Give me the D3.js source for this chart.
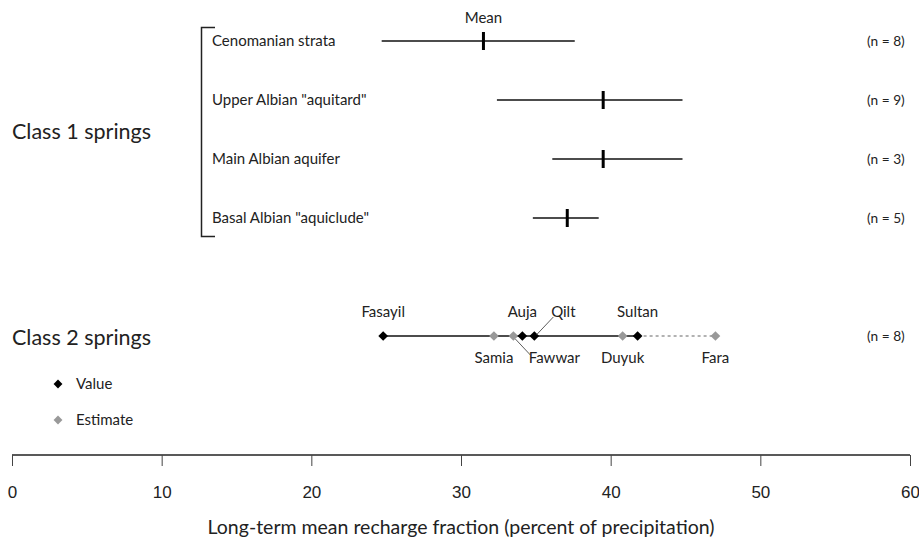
<!DOCTYPE html>
<html>
<head>
<meta charset="utf-8">
<script src="https://cdn.jsdelivr.net/npm/d3@7"></script>
<style>
  body { margin: 0; background: #fff; }
  svg { display: block; font-family: Lato, "Open Sans", sans-serif; }
</style>
</head>
<body>
<svg id="chart" width="919" height="543"></svg>
<script>
// Class 1 springs: recharge fraction range (min, max) and mean by unit
const class1Units = ["Cenomanian strata", "Upper Albian \"aquitard\"", "Main Albian aquifer", "Basal Albian \"aquiclude\""];
const class1Min   = [24.7, 32.4, 36.1, 34.8];
const class1Max   = [37.6, 44.8, 44.8, 39.2];
const class1Mean  = [31.5, 39.5, 39.5, 37.1];
const class1N     = [8, 9, 3, 5];

// Class 2 springs: individual values (measured or estimated)
const class2Names = ["Fasayil", "Samia", "Fawwar", "Auja", "Qilt", "Duyuk", "Sultan", "Fara"];
const class2Vals  = [24.8, 32.2, 33.5, 34.1, 34.9, 40.8, 41.8, 47.0];
const class2Kind  = ["Value", "Estimate", "Estimate", "Value", "Value", "Estimate", "Value", "Estimate"];
const class2Side  = ["above", "below", "below", "above", "above", "below", "above", "below"];
const class2N     = 8;

const xTicks = [0, 10, 20, 30, 40, 50, 60];
const legendItems = ["Value", "Estimate"];

const svg = d3.select("#chart");
const x = d3.scaleLinear().domain([0, 60]).range([12, 910]);
const axisY = 455;
const kindColor = { Value: "#000", Estimate: "#999" };
const labelSize = "15px";

// row positions for class 1 units and the class 2 line
const rowY = d3.scalePoint().domain(class1Units).range([41, 218]);
const class2Y = 336;

// x axis
const axis = svg.append("g")
  .attr("transform", `translate(0,${axisY})`)
  .call(d3.axisBottom(x).tickValues(xTicks).tickSize(11).tickPadding(0).tickFormat(d3.format("d")));
axis.select(".domain").attr("d", `M${x(0)},0H${x(60)}`).attr("stroke", "#222").attr("stroke-width", 1.3);
axis.selectAll(".tick line").attr("stroke", "#444").attr("stroke-width", 1);
axis.selectAll(".tick text").remove();
axis.selectAll(".tick").append("text")
  .attr("y", 37).attr("dy", "0.35em")
  .attr("text-anchor", "middle")
  .attr("fill", "#222")
  .style("font-size", "17px")
  .text(d => d);

svg.append("text")
  .attr("x", 461).attr("y", 527).attr("dy", "0.35em")
  .attr("text-anchor", "middle")
  .style("font-size", "19.5px").attr("fill", "#222")
  .text("Long-term mean recharge fraction (percent of precipitation)");

// group labels
svg.append("text").attr("x", 12).attr("y", 131).attr("dy", "0.35em")
  .style("font-size", "21.5px").attr("fill", "#222").text("Class 1 springs");
svg.append("text").attr("x", 12).attr("y", class2Y + 1).attr("dy", "0.35em")
  .style("font-size", "21.5px").attr("fill", "#222").text("Class 2 springs");

// bracket grouping the class 1 units
svg.append("path")
  .attr("d", "M215,27.5H201.5V236.5H215")
  .attr("fill", "none").attr("stroke", "#222").attr("stroke-width", 1.5);

// class 1 unit labels and range bars
const rows = svg.append("g").selectAll("g").data(class1Units).join("g")
  .attr("transform", d => `translate(0,${rowY(d)})`);
rows.append("text").attr("x", 212).attr("dy", "0.35em")
  .style("font-size", labelSize).attr("fill", "#222").text(d => d);
rows.append("line")
  .attr("x1", (d, i) => x(class1Min[i])).attr("x2", (d, i) => x(class1Max[i]))
  .attr("stroke", "#111").attr("stroke-width", 1.6);
rows.append("line")
  .attr("x1", (d, i) => x(class1Mean[i])).attr("x2", (d, i) => x(class1Mean[i]))
  .attr("y1", -9).attr("y2", 9)
  .attr("stroke", "#000").attr("stroke-width", 3);
rows.append("text").attr("x", 867).attr("dy", "0.35em")
  .style("font-size", "13.7px").attr("fill", "#222").text((d, i) => `(n = ${class1N[i]})`);

svg.append("text").attr("x", x(class1Mean[0])).attr("y", 18).attr("dy", "0.35em")
  .attr("text-anchor", "middle").style("font-size", labelSize).attr("fill", "#222").text("Mean");

// class 2 line: solid across measured values, dashed to the highest estimate
const valueIdx = class2Vals.map((v, i) => i).filter(i => class2Kind[i] === "Value");
const lastValue = d3.max(valueIdx, i => class2Vals[i]);
const firstVal = d3.min(class2Vals);
const maxVal = d3.max(class2Vals);
svg.append("line")
  .attr("x1", x(firstVal)).attr("x2", x(lastValue)).attr("y1", class2Y).attr("y2", class2Y)
  .attr("stroke", "#111").attr("stroke-width", 1.6);
svg.append("line")
  .attr("x1", x(lastValue)).attr("x2", x(maxVal)).attr("y1", class2Y).attr("y2", class2Y)
  .attr("stroke", "#999").attr("stroke-width", 1.5).attr("stroke-dasharray", "3,3");

const diamond = d3.symbol().type(d3.symbolDiamond2).size(60);
const drawOrder = class2Vals.map((v, i) => i).sort((a, b) => (class2Kind[a] === "Value") - (class2Kind[b] === "Value"));
svg.append("g").selectAll("path").data(drawOrder).join("path")
  .attr("d", diamond)
  .attr("transform", i => `translate(${x(class2Vals[i])},${class2Y})`)
  .attr("fill", i => kindColor[class2Kind[i]]);

// point labels; Qilt and Fawwar are offset, with leader lines back to their points
const labelShift = { Qilt: 29, Fawwar: 41 };
const leaderEnd = { Qilt: [19, 317], Fawwar: [17, 355] };
const labels = svg.append("g").selectAll("g").data(class2Names).join("g");
labels.append("text")
  .attr("x", (d, i) => x(class2Vals[i]) + (labelShift[d] || 0))
  .attr("y", (d, i) => class2Side[i] === "above" ? 312 : 358)
  .attr("dy", "0.35em").attr("text-anchor", "middle")
  .style("font-size", labelSize).attr("fill", "#222").text(d => d);
labels.filter(d => leaderEnd[d]).append("line")
  .attr("x1", d => x(class2Vals[class2Names.indexOf(d)]) + 2)
  .attr("y1", d => class2Side[class2Names.indexOf(d)] === "above" ? class2Y - 1 : class2Y + 3)
  .attr("x2", d => x(class2Vals[class2Names.indexOf(d)]) + leaderEnd[d][0])
  .attr("y2", d => leaderEnd[d][1])
  .attr("stroke", "#333").attr("stroke-width", 0.8);

svg.append("text").attr("x", 867).attr("y", class2Y).attr("dy", "0.35em")
  .style("font-size", "13.7px").attr("fill", "#222").text(`(n = ${class2N})`);

// legend
const legend = svg.append("g").selectAll("g").data(legendItems).join("g")
  .attr("transform", (d, i) => `translate(58,${384 + i * 36})`);
legend.append("path").attr("d", d3.symbol().type(d3.symbolDiamond2).size(50))
  .attr("fill", d => kindColor[d]);
legend.append("text").attr("x", 18).attr("dy", "0.35em")
  .style("font-size", labelSize).attr("fill", "#222").text(d => d);
</script>
</body>
</html>
